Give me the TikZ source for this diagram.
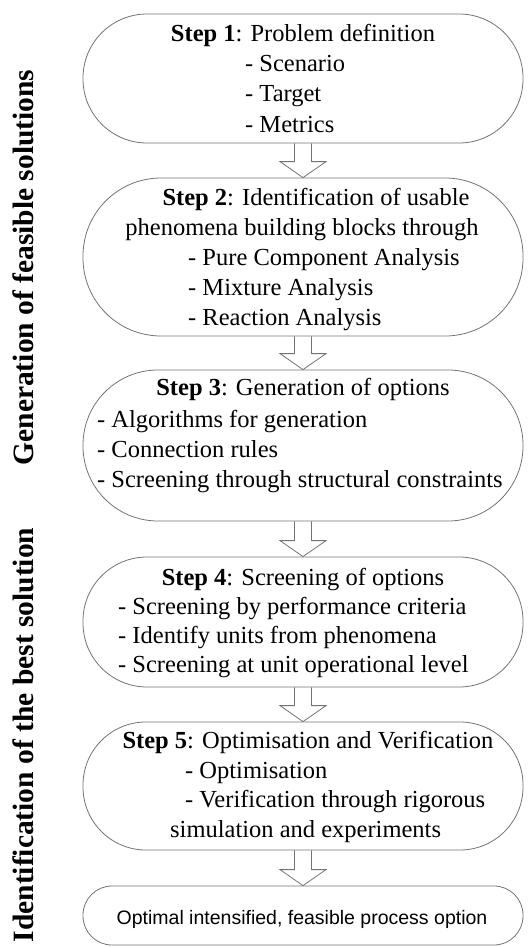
\documentclass[tikz,border=0pt]{standalone}
\usepackage{fontspec}
\setmainfont{Liberation Serif}
\newfontfamily\arialfont{Liberation Sans}
\usetikzlibrary{calc}
\tikzset{
  stepbox/.style={draw=black!55, line width=0.8pt, minimum width=440pt, inner sep=0pt},
  steptext/.style={inner sep=0pt, font=\fontsize{24.5}{30}\selectfont},
  sidelabel/.style={inner sep=0pt, rotate=90, font=\fontsize{29.5}{36}\selectfont\bfseries},
  flowarrow/.style={draw=black!55, line width=0.8pt, line join=miter},
}
\begin{document}
\begin{tikzpicture}[x=1pt, y=-1pt]
\useasboundingbox (0,0) rectangle (531,947);
\node[stepbox, minimum height=129pt, rounded corners=64pt] (s1) at (303,78.5) {};
\node[stepbox, minimum height=158pt, rounded corners=78pt] (s2) at (303,257) {};
\node[stepbox, minimum height=151pt, rounded corners=75pt] (s3) at (303,445.5) {};
\node[stepbox, minimum height=130pt, rounded corners=64pt] (s4) at (303,622) {};
\node[stepbox, minimum height=128pt, rounded corners=63pt] (s5) at (303,786) {};
\node[stepbox, minimum height=59pt, rounded corners=29pt] (s6) at (303,915.5) {};
\foreach \a/\b in {s1/s2,s2/s3,s3/s4,s4/s5,s5/s6}
  \draw[flowarrow] ($(\a.south)+(-8.5,0)$) -- ($(\b.north)+(-8.5,-16)$) -- ++(-14.5,0)
    -- (\b.north) -- ($(\b.north)+(23,-16)$) -- ++(-14.5,0) -- ($(\a.south)+(8.5,0)$);
\node[steptext, anchor=base] (t1) at (303,42) {\textbf{Step 1}: Problem definition};
\node[steptext, anchor=base west] (t1a) at (245,72) {- Scenario};
\node[steptext, anchor=base west] (t1b) at (245,102) {- Target};
\node[steptext, anchor=base west] (t1c) at (245,132) {- Metrics};
\node[steptext, anchor=base] (t2) at (316,205) {\textbf{Step 2}: Identification of usable};
\node[steptext, anchor=base] (t2a) at (302,235) {phenomena building blocks through};
\node[steptext, anchor=base west] (t2b) at (188,265) {- Pure Component Analysis};
\node[steptext, anchor=base west] (t2c) at (188,295) {- Mixture Analysis};
\node[steptext, anchor=base west] (t2d) at (188,325) {- Reaction Analysis};
\node[steptext, anchor=base] (t3) at (303,395) {\textbf{Step 3}: Generation of options};
\node[steptext, anchor=base west] (t3a) at (97,427) {- Algorithms for generation};
\node[steptext, anchor=base west] (t3b) at (97,457) {- Connection rules};
\node[steptext, anchor=base west] (t3c) at (97,487) {- Screening through structural constraints};
\node[steptext, anchor=base] (t4) at (303,585) {\textbf{Step 4}: Screening of options};
\node[steptext, anchor=base west] (t4a) at (118,614) {- Screening by performance criteria};
\node[steptext, anchor=base west] (t4b) at (118,643) {- Identify units from phenomena};
\node[steptext, anchor=base west] (t4c) at (118,672) {- Screening at unit operational level};
\node[steptext, anchor=base] (t5) at (308,748) {\textbf{Step 5}: Optimisation and Verification};
\node[steptext, anchor=base west] (t5a) at (185,778) {- Optimisation};
\node[steptext, anchor=base west] (t5b) at (185,807) {- Verification through rigorous};
\node[steptext, anchor=base west] (t5c) at (170,837) {simulation and experiments};
\node[inner sep=0pt, anchor=base, font=\arialfont\fontsize{19.5}{23}\selectfont] (t6) at (302,924) {Optimal intensified, feasible process option};
\node[sidelabel] (g1) at (23,267.5) {Generation of feasible solutions};
\node[sidelabel] (g2) at (23,735) {Identification of the best solution};
\end{tikzpicture}
\end{document}
